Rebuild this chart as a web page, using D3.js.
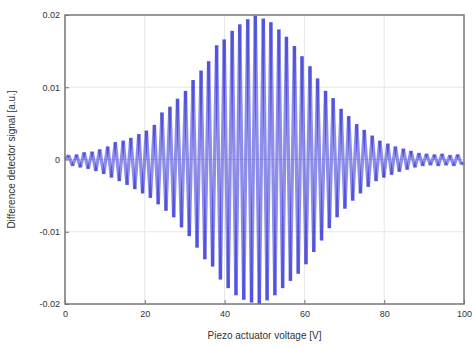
<!DOCTYPE html>
<html>
<head>
<meta charset="utf-8">
<script src="https://cdn.jsdelivr.net/npm/d3@7/dist/d3.min.js"></script>
<style>
  body { margin: 0; background: #fff; }
  text { font-family: "Liberation Sans", Arial, sans-serif; fill: #333; }
</style>
</head>
<body>
<div id="chart"></div>
<script>
// signal extrema (volts, a.u.)
const peakVolts = [0.9, 2.9, 4.8, 6.8, 8.7, 10.7, 12.6, 14.6, 16.5, 18.5, 20.4, 22.4, 24.3, 26.3, 28.2, 30.2, 32.1, 34.1, 36.0, 38.0,
  39.9, 41.9, 43.8, 45.8, 47.7, 49.7, 51.6, 53.6, 55.5, 57.5, 59.4, 61.4, 63.3, 65.3, 67.2, 69.2, 71.1, 73.1, 75.0, 77.0,
  78.9, 80.9, 82.8, 84.8, 86.7, 88.7, 90.6, 92.6, 94.5, 96.5, 98.4];
const peakValues = [0.0006, 0.0007, 0.0010, 0.0011, 0.0014, 0.0018, 0.0024, 0.0026, 0.0030, 0.0035, 0.0040, 0.0048, 0.0065, 0.0073, 0.0084, 0.0095, 0.0110, 0.0123, 0.0136, 0.0158,
  0.0166, 0.0178, 0.0187, 0.0194, 0.0199, 0.0195, 0.0190, 0.0180, 0.0170, 0.0157, 0.0143, 0.0129, 0.0112, 0.0095, 0.0085, 0.0070, 0.0060, 0.0049, 0.0041, 0.0033,
  0.0026, 0.0022, 0.0018, 0.0015, 0.0012, 0.0009, 0.0008, 0.0007, 0.0008, 0.0006, 0.0007];
const troughVolts = [1.9, 3.85, 5.8, 7.75, 9.7, 11.65, 13.6, 15.55, 17.5, 19.45, 21.4, 23.35, 25.3, 27.25, 29.2, 31.15, 33.1, 35.05, 37.0, 38.95,
  40.9, 42.85, 44.8, 46.75, 48.7, 50.65, 52.6, 54.55, 56.5, 58.45, 60.4, 62.35, 64.3, 66.25, 68.2, 70.15, 72.1, 74.05, 76.0, 77.95,
  79.9, 81.85, 83.8, 85.75, 87.7, 89.65, 91.6, 93.55, 95.5, 97.45, 99.4];
const troughValues = [-0.0009, -0.0011, -0.0013, -0.0016, -0.0020, -0.0025, -0.0030, -0.0035, -0.0041, -0.0047, -0.0053, -0.0062, -0.0071, -0.0080, -0.0094, -0.0106, -0.0122, -0.0138, -0.0148, -0.0166,
  -0.0178, -0.0188, -0.0194, -0.0198, -0.0200, -0.0195, -0.0188, -0.0178, -0.0168, -0.0158, -0.0145, -0.0128, -0.0112, -0.0095, -0.0080, -0.0068, -0.0057, -0.0047, -0.0038, -0.0030,
  -0.0025, -0.0021, -0.0017, -0.0014, -0.0011, -0.0009, -0.0008, -0.0009, -0.0008, -0.0009, -0.0007];

const xTicks = [0, 20, 40, 60, 80, 100];
const yTicks = [-0.02, -0.01, 0, 0.01, 0.02];
const yTickLabels = ["-0.02", "-0.01", "0", "0.01", "0.02"];

const width = 473, height = 347;
const margin = { top: 15, right: 9, bottom: 43, left: 65 };
const w = width - margin.left - margin.right;
const h = height - margin.top - margin.bottom;

const svg = d3.select("#chart").append("svg")
  .attr("width", width)
  .attr("height", height);

const g = svg.append("g").attr("transform", `translate(${margin.left},${margin.top})`);

const x = d3.scaleLinear().domain([0, 100]).range([0, w]);
const y = d3.scaleLinear().domain([-0.02, 0.02]).range([h, 0]);

// grid
g.append("g").selectAll("line.gx").data(xTicks).enter().append("line")
  .attr("x1", d => x(d)).attr("x2", d => x(d)).attr("y1", 0).attr("y2", h)
  .attr("stroke", "#e6e6e6").attr("stroke-width", 1);
g.append("g").selectAll("line.gy").data(yTicks).enter().append("line")
  .attr("x1", 0).attr("x2", w).attr("y1", d => y(d)).attr("y2", d => y(d))
  .attr("stroke", "#e6e6e6").attr("stroke-width", 1);

// build the wave from extrema, each half swing its own path so the tips darken
const pts = [[0, 0]];
peakVolts.forEach((v, i) => {
  pts.push([v, peakValues[i]]);
  pts.push([troughVolts[i], troughValues[i]]);
});
pts.push([100, -0.0004]);

const line = d3.line()
  .x(d => x(d[0]))
  .y(d => y(d[1]))
  .curve(d3.curveMonotoneX);

const wave = g.append("g");
for (let i = 0; i < pts.length - 1; i++) {
  wave.append("path")
    .attr("d", line([pts[i], pts[i + 1]]))
    .attr("fill", "none")
    .attr("stroke", "#1212d0")
    .attr("stroke-opacity", 0.48)
    .attr("stroke-width", 3.4);
}

// axes
const xAxis = d3.axisBottom(x).tickValues(xTicks).tickSize(-4).tickPadding(7);
const yAxis = d3.axisLeft(y).tickValues(yTicks).tickSize(-4).tickPadding(5)
  .tickFormat((d, i) => yTickLabels[i]);

const gx = g.append("g").attr("transform", `translate(0,${h})`).call(xAxis);
const gy = g.append("g").call(yAxis);
[gx, gy].forEach(a => {
  a.select(".domain").remove();
  a.selectAll("line").attr("stroke", "#777");
  a.selectAll("text").attr("font-size", 9).style("fill", "#333");
});

// box
g.append("rect")
  .attr("x", 0).attr("y", 0).attr("width", w).attr("height", h)
  .attr("fill", "none").attr("stroke", "#7a7a7a").attr("stroke-width", 1.5);

svg.append("text")
  .attr("x", margin.left + w / 2)
  .attr("y", 339)
  .attr("text-anchor", "middle")
  .attr("font-size", 10)
  .text("Piezo actuator voltage [V]");

svg.append("text")
  .attr("transform", `translate(15,${margin.top + h / 2}) rotate(-90)`)
  .attr("text-anchor", "middle")
  .attr("font-size", 10)
  .text("Difference detector signal [a.u.]");
</script>
</body>
</html>
